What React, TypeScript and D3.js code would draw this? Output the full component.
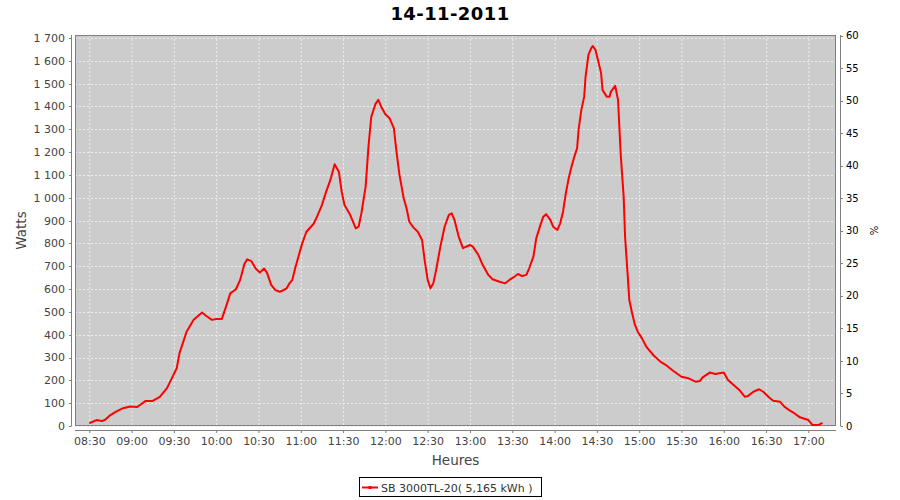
import React from "react";
import * as d3 from "d3";

const titleText = "14-11-2011";
const xLabel = "Heures";
const yLabel = "Watts";
const y2Label = "%";
const legendLabel = "SB 3000TL-20( 5,165 kWh )";

const xTickLabels = ["08:30","09:00","09:30","10:00","10:30","11:00","11:30","12:00","12:30","13:00","13:30","14:00","14:30","15:00","15:30","16:00","16:30","17:00"];
const yTicks = [0,100,200,300,400,500,600,700,800,900,1000,1100,1200,1300,1400,1500,1600,1700];
const y2Ticks = [0,5,10,15,20,25,30,35,40,45,50,55,60];

const times = [
  "08:30","08:35","08:39","08:41","08:45","08:49","08:54","08:59","09:04","09:10",
  "09:15","09:20","09:25","09:28","09:32","09:34","09:39","09:44","09:50","09:53",
  "09:57","10:00","10:04","10:07","10:10","10:14","10:17","10:20","10:22","10:25",
  "10:28","10:31","10:34","10:36","10:39","10:42","10:45","10:48","10:50","10:52",
  "10:54","10:56","11:01","11:04","11:09","11:11","11:15","11:18","11:21","11:24",
  "11:27","11:29","11:31","11:35","11:39","11:41","11:43","11:46","11:48","11:50",
  "11:53","11:55","11:57","12:00","12:03","12:06","12:08","12:10","12:13","12:15",
  "12:17","12:20","12:23","12:26","12:28","12:30","12:32","12:34","12:36","12:39",
  "12:42","12:45","12:47","12:49","12:52","12:55","13:00","13:02","13:06","13:09",
  "13:13","13:16","13:21","13:25","13:28","13:31","13:34","13:37","13:40","13:42",
  "13:45","13:47","13:50","13:52","13:54","13:57","13:59","14:02","14:04","14:06",
  "14:08","14:10","14:12","14:14","14:16","14:17","14:19","14:21","14:22","14:24",
  "14:26","14:27","14:29","14:31","14:33","14:34","14:37","14:39","14:40","14:43",
  "14:45","14:47","14:49","14:50","14:52","14:53","14:55","14:57","14:59","15:02",
  "15:05","15:10","15:15","15:19","15:24","15:30","15:35","15:40","15:43","15:45",
  "15:50","15:54","16:00","16:03","16:07","16:11","16:15","16:17","16:21","16:25",
  "16:28","16:32","16:35","16:40","16:43","16:47","16:50","16:54","17:00","17:03",
  "17:07","17:10"
];

const watts = [
  12,26,22,26,48,63,78,85,83,110,
  110,128,165,202,253,319,413,465,497,482,
  465,469,469,523,581,599,640,710,730,722,
  690,672,690,672,618,595,588,596,603,625,
  640,691,800,851,885,910,968,1027,1078,1147,
  1114,1027,968,925,866,873,932,1049,1224,1355,
  1411,1429,1399,1366,1348,1305,1195,1100,998,954,
  895,869,851,815,720,640,603,625,684,786,
  873,925,932,903,830,779,793,786,749,706,
  662,643,632,625,640,652,666,657,662,691,
  742,822,881,917,928,903,873,859,888,939,
  1020,1085,1136,1180,1217,1297,1385,1443,1531,1626,
  1655,1665,1648,1597,1546,1472,1443,1443,1465,1490,
  1429,1180,1005,830,647,552,494,443,413,384,
  348,311,282,267,242,216,209,194,197,213,
  234,228,234,202,180,158,128,131,150,161,
  150,126,111,106,85,67,56,38,26,4,
  4,14
];

const toMin = (s: string) => {
  const [h, m] = s.split(":").map(Number);
  return h * 60 + m;
};

const W = 900, H = 500;
const L = 75, R = 836, T = 35, B = 426;
const FONT = "'DejaVu Sans', sans-serif";

export default function App() {
  const x = d3.scaleLinear()
    .domain([toMin("08:30") - 10.14, toMin("17:00") + 19.6])
    .range([L, R]);
  const y = d3.scaleLinear().domain([0, 1713]).range([B, T]);
  const y2 = d3.scaleLinear().domain([0, 60]).range([B, T + 0.5]);
  const fmt = d3.formatLocale({ thousands: "\u00a0", grouping: [3], decimal: ",", currency: ["", ""] }).format(",d");

  const data = times.map((t, i) => ({ t: toMin(t), v: watts[i] }));
  const line = d3.line<{ t: number; v: number }>().x(d => x(d.t)).y(d => y(d.v));

  const axisColor = "#808080";
  const labelColor = "#444444";

  return (
    <svg width={W} height={H} style={{ position: "absolute", left: 0, top: 0, background: "#ffffff" }} fontFamily={FONT}>
      <rect x={0} y={0} width={W} height={H} fill="#ffffff" />
      <text x={450} y={20} textAnchor="middle" fontSize={18} fontWeight="bold" fill="#000" letterSpacing={0.4}>{titleText}</text>

      {/* plot background */}
      <rect x={L} y={T} width={R - L} height={B - T} fill="#cccccc" />
      {/* grid */}
      {xTickLabels.map(s => (
        <line key={"gx" + s} x1={x(toMin(s)) + 0.5} x2={x(toMin(s)) + 0.5} y1={T} y2={B} stroke="#eeeeee" strokeWidth={1} strokeDasharray="2,2" />
      ))}
      {yTicks.map(v => (
        <line key={"gy" + v} x1={L} x2={R} y1={Math.round(y(v)) + 0.5} y2={Math.round(y(v)) + 0.5} stroke="#eeeeee" strokeWidth={1} strokeDasharray="2,2" />
      ))}
      <rect x={L + 0.5} y={T + 0.5} width={R - L - 1} height={B - T - 1} fill="none" stroke="#808080" strokeWidth={1} />

      {/* series */}
      <path d={line(data) || ""} fill="none" stroke="#ff0000" strokeWidth={2} strokeLinejoin="round" />

      {/* left axis */}
      <line x1={71.5} x2={71.5} y1={T} y2={B} stroke={axisColor} />
      {yTicks.map(v => (
        <g key={"ly" + v}>
          <line x1={69} x2={71.5} y1={Math.round(y(v)) + 0.5} y2={Math.round(y(v)) + 0.5} stroke={axisColor} />
          <text x={65} y={y(v)} dy="0.36em" textAnchor="end" fontSize={11} fill={labelColor}>{fmt(v)}</text>
        </g>
      ))}
      <text transform={`translate(26,${(T + B) / 2}) rotate(-90)`} textAnchor="middle" fontSize={13.5} fill={labelColor}>{yLabel}</text>

      {/* bottom axis */}
      <line x1={L} x2={R} y1={430.5} y2={430.5} stroke={axisColor} />
      {xTickLabels.map(s => (
        <g key={"bx" + s}>
          <line x1={x(toMin(s)) + 0.5} x2={x(toMin(s)) + 0.5} y1={430.5} y2={433} stroke={axisColor} />
          <text x={x(toMin(s)) + 0.5} y={445} textAnchor="middle" fontSize={11} fill={labelColor}>{s}</text>
        </g>
      ))}
      <text x={(L + R) / 2} y={465} textAnchor="middle" fontSize={13.5} fill={labelColor}>{xLabel}</text>

      {/* right axis */}
      <line x1={840.5} x2={840.5} y1={T} y2={B} stroke={axisColor} />
      {y2Ticks.map(v => (
        <g key={"ry" + v}>
          <line x1={840.5} x2={843} y1={Math.round(y2(v)) + 0.5} y2={Math.round(y2(v)) + 0.5} stroke={axisColor} />
          <text x={846} y={y2(v)} dy="0.36em" textAnchor="start" fontSize={10} fill="#000">{v}</text>
        </g>
      ))}
      <text transform={`translate(870,${(T + B) / 2}) rotate(90)`} textAnchor="middle" fontSize={10} fill="#000">{y2Label}</text>

      {/* legend */}
      <rect x={359.5} y={477.5} width={182} height={19} fill="#ffffff" stroke="#000" strokeWidth={1} />
      <line x1={362} x2={378} y1={487.5} y2={487.5} stroke="#ff0000" strokeWidth={2} />
      <rect x={368.5} y={486} width={3} height={3} fill="#ff0000" />
      <text x={381} y={491.5} fontSize={11} fill="#333">{legendLabel}</text>
    </svg>
  );
}
